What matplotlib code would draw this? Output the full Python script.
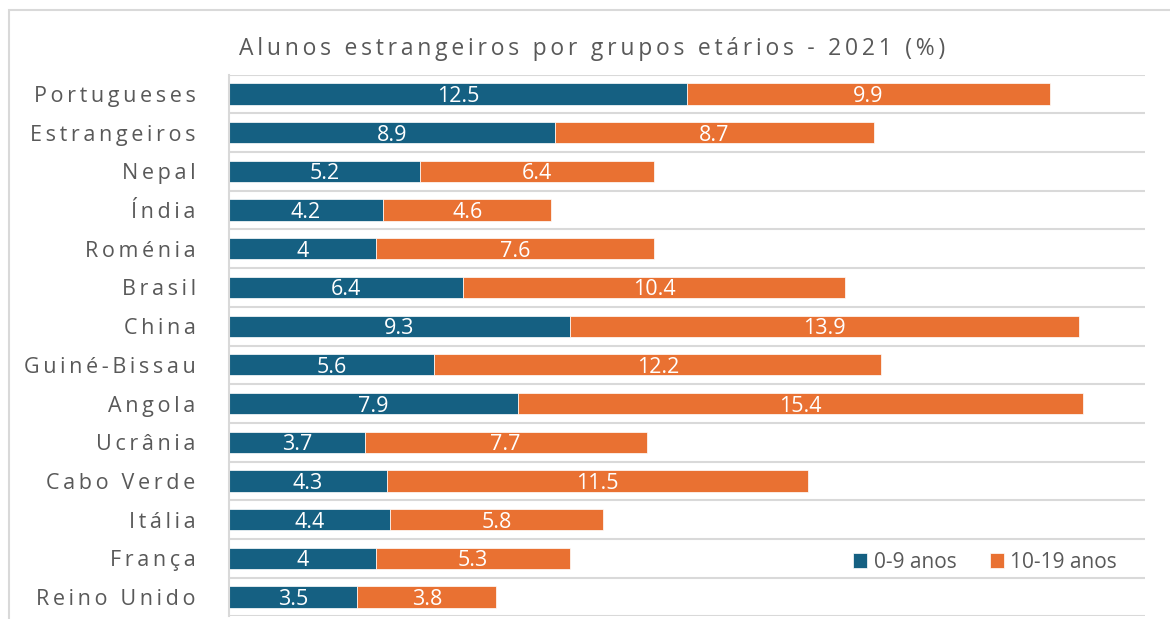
import matplotlib.pyplot as plt
from matplotlib.patches import Rectangle

plt.rcParams['font.family'] = ['Open Sans', 'DejaVu Sans']

paises = ['Portugueses', 'Estrangeiros', 'Nepal', 'Índia', 'Roménia', 'Brasil',
          'China', 'Guiné-Bissau', 'Angola', 'Ucrânia', 'Cabo Verde', 'Itália',
          'França', 'Reino Unido']
anos_0_9 = [12.5, 8.9, 5.2, 4.2, 4, 6.4, 9.3, 5.6, 7.9, 3.7, 4.3, 4.4, 4, 3.5]
anos_10_19 = [9.9, 8.7, 6.4, 4.6, 7.6, 10.4, 13.9, 12.2, 15.4, 7.7, 11.5, 5.8, 5.3, 3.8]
series = ['0-9 anos', '10-19 anos']

azul = '#156082'
laranja = '#E97132'
cinza = '#595959'
linha = '#d9d9d9'


def spaced(s):
    # letter spacing via thin spaces
    return '\u2009'.join(s)


fig = plt.figure(figsize=(11.7, 6.19), dpi=100)
ax = fig.add_axes([229 / 1170, 1 - 616.4 / 619, (1145 - 229) / 1170, (616.4 - 74.6) / 619])

y = list(range(len(paises)))
b1 = ax.barh(y, anos_0_9, height=0.55, color=azul, edgecolor='white', linewidth=0.5, label=series[0])
b2 = ax.barh(y, anos_10_19, left=anos_0_9, height=0.55, color=laranja, edgecolor='white',
             linewidth=0.5, label=series[1])

for bars, vals in ((b1, anos_0_9), (b2, anos_10_19)):
    txts = ax.bar_label(bars, labels=[f'{v:g}' for v in vals], label_type='center',
                        color='white', fontsize=15.5)
    for t in txts:
        t.set_va('center_baseline')

ax.set_xlim(0, 25)
ax.set_ylim(len(paises) - 0.5, -0.5)
for i in range(len(paises) + 1):
    ax.axhline(i - 0.5, color=linha, lw=1.5, zorder=0)

ax.set_yticks(y)
ax.set_yticklabels([spaced(p) for p in paises], fontsize=15.5, color=cinza)
ax.tick_params(axis='y', length=0, pad=24)
ax.set_xticks([])
for s in ['top', 'right', 'bottom']:
    ax.spines[s].set_visible(False)
ax.spines['left'].set_color(linha)
ax.spines['left'].set_linewidth(1.5)

fig.text(592 / 1170, 1 - 49 / 619, spaced('Alunos estrangeiros por grupos etários - 2021 (%)'),
         ha='center', va='center', fontsize=16.5, color=cinza)

fig.legend(handles=[b1, b2], loc='center', bbox_to_anchor=(985 / 1170, 1 - 562 / 619),
           ncol=2, frameon=False, fontsize=15, labelcolor=cinza, handlelength=0.7,
           handleheight=0.7, handletextpad=0.3, columnspacing=1.6)

fig.patches.append(Rectangle((9 / 1170, -0.1), 1.0, 1.1 - 10 / 619, transform=fig.transFigure,
                             fill=False, edgecolor=linha, lw=1.5))

fig.savefig('out.png', dpi=100)
